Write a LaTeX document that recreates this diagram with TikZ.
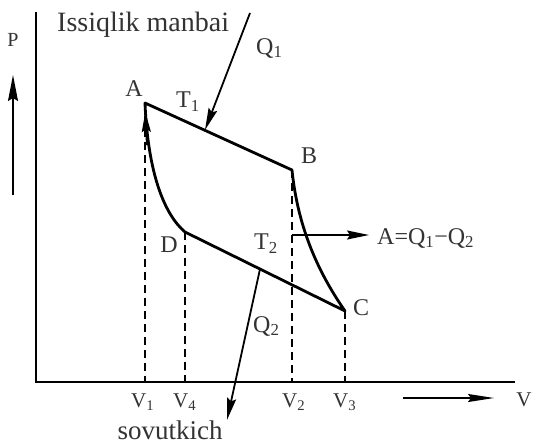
\documentclass[tikz,border=0pt]{standalone}
\usepackage{fontspec}
\setmainfont{Liberation Serif}
\usetikzlibrary{arrows.meta}
\newcommand\sbs[1]{\textsubscript{#1}}
\begin{document}
\begin{tikzpicture}[x=1pt,y=-1pt,
  curve/.style={line width=2.8pt,line cap=round,line join=round},
  axisline/.style={line width=2.4pt},
  dashline/.style={line width=2.2pt,dash pattern=on 8pt off 5pt},
  arr/.style={line width=1.8pt,-{Stealth[length=22pt,width=9pt,inset=3pt]}},
  lbl/.style={text=black!80,inner sep=0pt,font=\fontsize{24}{26}\selectfont},
  big/.style={text=black!80,inner sep=0pt,font=\fontsize{28}{30}\selectfont},
  vl/.style={text=black!80,inner sep=0pt,font=\fontsize{21}{23}\selectfont}]
\useasboundingbox (0,0) rectangle (534,444);
% points
\coordinate (A) at (145,103);
\coordinate (B) at (292,170);
\coordinate (C) at (345,311);
\coordinate (D) at (185,232);
\coordinate (O) at (36,382);
\coordinate (ytop) at (36,12);
\coordinate (xend) at (515,382);
\coordinate (v1) at (145,382);
\coordinate (v4) at (185,382);
\coordinate (v2) at (292,382);
\coordinate (v3) at (345,382);
% axes
\draw[axisline] (ytop) -- (O) -- (xend);
% dashed
\draw[dashline] (A) -- (v1);
\draw[dashline] (D) -- (v4);
\draw[dashline] (B) -- (v2);
\draw[dashline] (C) -- (v3);
% cycle
\draw[curve] (A) -- (B) .. controls (298,230) and (320,275) .. (C) -- (D) .. controls (165,215) and (148,175) .. (A);
% arrow on AD
\coordinate (adS) at (147,145);
\coordinate (adE) at (145.3,112);
\draw[line width=2pt,-{Stealth[length=20pt,width=9pt,inset=3pt]}] (adS) -- (adE);
% Q1 arrow
\coordinate (q1s) at (250,13);
\coordinate (q1e) at (205,130);
\draw[arr] (q1s) -- (q1e);
% Q2 arrow
\coordinate (q2s) at (260,269);
\coordinate (q2e) at (227,420);
\draw[arr] (q2s) -- (q2e);
% work arrow
\coordinate (ws) at (292,235);
\coordinate (we) at (369,235);
\draw[line width=1.6pt,-{Stealth[length=22pt,width=9pt,inset=3pt]}] (ws) -- (we);
% P arrow
\coordinate (ps) at (13,195);
\coordinate (pe) at (13,75);
\draw[line width=1.6pt,-{Stealth[length=26pt,width=10pt,inset=3pt]}] (ps) -- (pe);
% V arrow
\coordinate (vs) at (403,398);
\coordinate (ve) at (494,398);
\draw[line width=1.6pt,-{Stealth[length=26pt,width=8pt,inset=3pt]}] (vs) -- (ve);
% labels
\node[lbl,font=\fontsize{20}{22}\selectfont] (P) at (13,40) {P};
\node[big,anchor=west] (src) at (57,25) {Issiqlik manbai};
\node[lbl,anchor=west] (Q1) at (256,48) {Q\sbs{1}};
\node[lbl] (Al) at (134,89) {A};
\node[lbl,anchor=west] (T1) at (176,102) {T\sbs{1}};
\node[lbl] (Bl) at (309,156) {B};
\node[lbl] (Dl) at (169,245) {D};
\node[lbl,anchor=west] (T2) at (254,244) {T\sbs{2}};
\node[lbl] (Cl) at (361,308) {C};
\node[lbl,anchor=west] (W) at (377,238) {A=Q\sbs{1}−Q\sbs{2}};
\node[lbl,anchor=west] (Q2) at (253,326) {Q\sbs{2}};
\node[vl,anchor=west] (V1) at (131,402) {V\sbs{1}};
\node[vl,anchor=west] (V4) at (173,402) {V\sbs{4}};
\node[vl,anchor=west] (V2) at (282,402) {V\sbs{2}};
\node[vl,anchor=west] (V3) at (333,402) {V\sbs{3}};
\node[vl] (V) at (524,400) {V};
\node[big,font=\fontsize{27}{29}\selectfont] (cold) at (170,430) {sovutkich};
\end{tikzpicture}
\end{document}
